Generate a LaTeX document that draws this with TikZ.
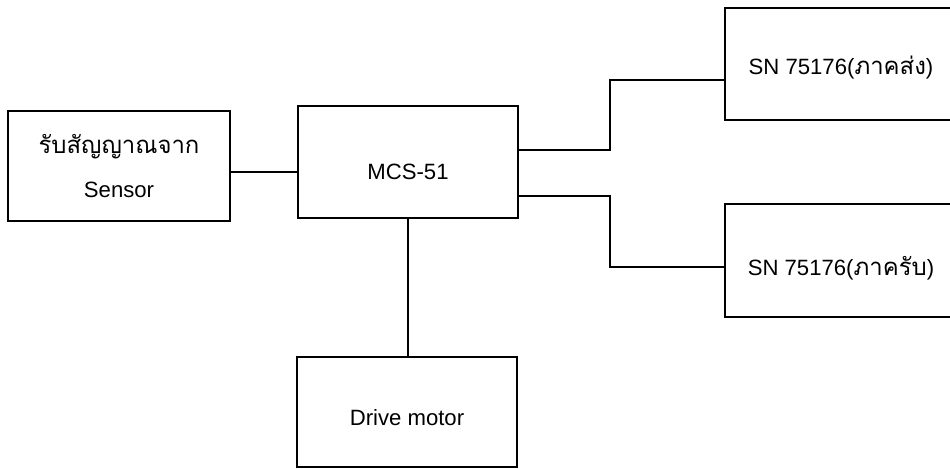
\documentclass[tikz,border=0pt]{standalone}
\usepackage{fontspec}
\setmainfont{Liberation Sans}
\newfontfamily\thaifont[Script=Thai, Scale=1.08]{Loma}
\begin{document}
\begin{tikzpicture}[x=0.02cm, y=-0.02cm,
        block/.style={rectangle, draw, line width=1pt, minimum width=4.4cm, minimum height=2.2cm, font=\fontsize{12.6}{14}\selectfont, align=center},
        line/.style={draw, line width=1pt}
    ]
        \path[use as bounding box] (0,0) rectangle (950,469);
        \clip (0,0) rectangle (950,469);

        \node[block, minimum width=4.44cm] (sensor) at (119,166) {{\thaifont รับสัญญาณจาก}\\[0.4cm]Sensor};
        \node[block, minimum height=2.24cm, text height=0.8cm, text depth=0.1cm] (mcs) at (408,162) {MCS-51};
        \node[block, minimum width=4.64cm, minimum height=2.24cm, text height=0.52cm, text depth=0.1cm] (sn1) at (841,64) {SN 75176({\thaifont ภาคส่ง})};
        \node[block, minimum width=4.64cm, minimum height=2.26cm, text height=0.72cm, text depth=0.1cm] (sn2) at (841,260.5) {SN 75176({\thaifont ภาครับ})};
        \node[block, text height=0.64cm, text depth=0.1cm] (drive) at (407,412) {Drive motor};

        \coordinate (tx) at (610,0);

        \draw[line] (sensor.east |- 0,172) -- (mcs.west |- 0,172);
        \draw[line] (mcs.east |- 0,150) -- (tx |- 0,150) -- (tx |- 0,80) -- (sn1.west |- 0,80);
        \draw[line] (mcs.east |- 0,196) -- (tx |- 0,196) -- (tx |- 0,267) -- (sn2.west |- 0,267);
        \draw[line] (mcs.south) -- (mcs.south |- drive.north);
    \end{tikzpicture}
\end{document}
